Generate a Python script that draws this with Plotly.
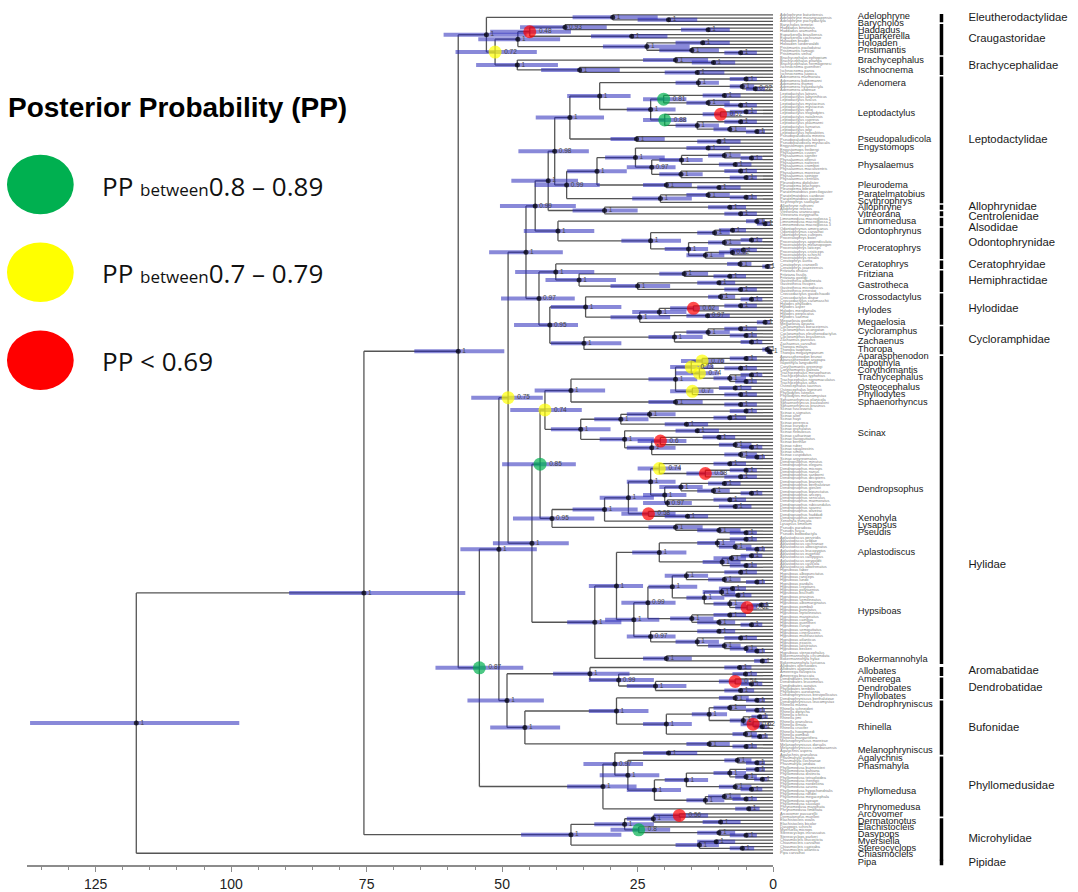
import numpy as np
import plotly.graph_objects as go

# ---------------- DATA ----------------
# Newick-like clades: internal node label = age(Ma)/posterior/HPD_old/HPD_young
ELEUTHERO = "(Adelophryne_baturitensis,(Adelophryne_maranguapensis,Adelophryne_pachydactyla)19.3/1/25/14)29.6/1/37/21.3"
CRAUGASTOR = ("(((Barycholos_ternetzi,(Haddadus_binotatus,Haddadus_aramunha)12/1/17/8)38.4/0.93/46.7/30.7,"
              "(Euparkerella_brasiliensis,Euparkerella_cochranae)26.1/1/33.6/19.5)44.9/0.48/52.2/37.3,"
              "((Holoaden_bradei,Holoaden_luederwaldti)13/1/18/8,(Pristimantis_paulodutrai,"
              "(Pristimantis_ramagii,Pristimantis_vinhai)6/1/9/3)15/1/21/10)23.3/1/31.4/15.4)47.1/1/54.4/39.3")
BRACHY = ("((Brachycephalus_ephippium,(Brachycephalus_pitanga,Brachycephalus_hermogenesi)11/1/15/7)18/1/24/12,"
          "(Ischnocnema_guentheri,(Ischnocnema_parva,Ischnocnema_juipoca)14/1/20/9)"
          "35.7/1/42.8/28.3)47.2/1/54.8/39.7")
ADENOMERA = ("((Adenomera_marmorata,Adenomera_bokermanni)5/1/8/3,(Adenomera_thomei,(Adenomera_hylaedactyla,"
             "Adenomera_andreae)3.3/0.92/5/1.5)5.7/1/8/3.5)13.8/1/18/10")
LEPTODACTYLUS = ("(((Leptodactylus_latrans,Leptodactylus_labyrinthicus)9/1/13/6,(Leptodactylus_fuscus,"
                 "(Leptodactylus_mystacinus,Leptodactylus_mystaceus)6/1/9/3)12/1/16/8)20.2/0.81/24/16,"
                 "(((Leptodactylus_spixi,Leptodactylus_troglodytes)5/1/8/3,Leptodactylus_natalensis)9.7/0.52/13/7,"
                 "((Leptodactylus_cupreus,Leptodactylus_plaumanni)6/1/9/3,(Leptodactylus_furnarius,"
                 "(Leptodactylus_jolyi,Leptodactylus_notoaktites)3/1/5/1.5)8/1/11/5)14/1/18/10)20/0.88/24/16)22.6/1/27/18")
PSEUDOPAL = "(Pseudopaludicola_mineira,(Pseudopaludicola_falcipes,Pseudopaludicola_mystacalis)10/1/14/6)25.2/1/30/20"
ENGYSTOMOPS = "(Engystomops_petersi,Engystomops_freibergi)12/1/16/8"
PHYSALAEMUS = ("(((Physalaemus_cuvieri,(Physalaemus_signifer,Physalaemus_olfersii)4/1/6/2)9/1/12/6,"
               "(Physalaemus_nattereri,Physalaemus_crombiei)7/1/10/4)16.9/1/21/13,((Physalaemus_maculiventris,"
               "Physalaemus_moreirae)6/1/9/3,(Physalaemus_spiniger,Physalaemus_centralis)5/1/8/3)17/1/21/13)22.4/0.97/27/18")
PLEURODEMA = "(Pleurodema_diplolister,(Pleurodema_brachyops,Pleurodema_bibroni)10/1/14/6)19.7/1/24/15"
PARATELMA = ("((Paratelmatobius_poecilogaster,(Paratelmatobius_cardosoi,Paratelmatobius_gaigeae)5/1/8/3)12/1/16/8,"
             "Scythrophrys_sawayae)20.8/1/26/15")
ALLO_CENTRO = ("((Allophryne_ruthveni,Allophryne_relictus)8/1/12/5,(Vitreorana_uranoscopa,Vitreorana_eurygnatha)"
               "6/1/9/3)31.1/1/37/25")
ALSODIDAE = "(Limnomedusa_macroglossa_1,(Limnomedusa_macroglossa_2,Limnomedusa_macroglossa_3)1.5/1/3/0.5)3/1/5/1.5"
ODONTO = ("(((Odontophrynus_americanus,Odontophrynus_carvalhoi)7.5/1/10/5,Odontophrynus_cultripes)10.8/1/14/8,"
          "(((Proceratophrys_boiei,Proceratophrys_appendiculata)4/1/6/2,Proceratophrys_melanopogon)9/1/12/6,"
          "(((Proceratophrys_laticeps,Proceratophrys_cristiceps)5.5/1/8/3,Proceratophrys_schirchi)7.5/0.92/10/5,"
          "Proceratophrys_renalis)12.5/1/16/9)15.6/1/20/12)22.6/1/28/17")
CERATO = "(Ceratophrys_aurita,(Ceratophrys_cranwelli,Ceratophrys_joazeirensis)1.1/1/2/0.5)6.1/1/8.5/4"
HEMIPHRACT = ("((Fritziana_ohausi,(Fritziana_fissilis,Fritziana_goeldii)8/1/11/5)16.4/1/21/12,"
              "((Gastrotheca_albolineata,Gastrotheca_fissipes)10/1/14/7,(Gastrotheca_microdiscus,"
              "Gastrotheca_ernestoi)6/1/9/3)25/1/30/19)35.8/1/42/29")
HYLODIDAE = ("((Crossodactylus_gaudichaudii,(Crossodactylus_dispar,Crossodactylus_caramaschii)4/1/6/2)9.7/1/12/7,"
             "((((Hylodes_phyllodes,Hylodes_asper)6/1/9/3,Hylodes_meridionalis)14.7/0.62/19/10,"
             "(Hylodes_perplicatus,Hylodes_sazimai)12.1/0.97/16/8)21/1/26/16,"
             "(Megaelosia_goeldii,Megaelosia_apuana)1.5/1/3/0.5)24.6/1/30/19)34.6/1/41/28")
CYCLORAMPH = ("((((Cycloramphus_boraceiensis,Cycloramphus_acangatan)6/1/9/3,(Cycloramphus_eleutherodactylus,"
              "Cycloramphus_brasiliensis)5/1/8/3)12/1/16/8,(Zachaenus_parvulus,Zachaenus_carvalhoi)4/1/6/2)18.2/1/23/13,"
              "(Thoropa_miliaris,(Thoropa_taophora,Thoropa_megatympanum)0.6/1/1.2/0.2)1.1/1/2/0.5)34.9/1/41/28")
LOPHYOHYLINI = ("(((((Aparasphenodon_brunoi,Aparasphenodon_arapapa)5/1/8/3,Itapotihyla_langsdorffii)13.1/0.76/17/9,"
                "((Corythomantis_greeningi,Corythomantis_galeata)6/1/9/3,((Trachycephalus_mesophaeus,"
                "Trachycephalus_typhonius)4/1/6/2,(Trachycephalus_nigromaculatus,Trachycephalus_atlas)5/1/7/3)8/1/11/5)"
                "13.6/0.74/18/10)15.1/0.73/19/11,((Osteocephalus_taurinus,Osteocephalus_leprieurii)7/1/10/4,"
                "(Phyllodytes_luteolus,Phyllodytes_melanomystax)6/1/9/3)14.9/0.7/19/11)18/1/23/14,"
                "(Sphaenorhyncus_planicola,(Sphaenorhyncus_pauloalvini,Sphaenorhyncus_prasinus)6/1/9/3)18/1/23/13)37.3/1/44/31")
SCINAX = ("((((Scinax_fuscovarius,Scinax_x-signatus)5/1/8/3,(Scinax_alter,Scinax_hayii)8/1/11/5)22.8/1/27/18,"
          "(Scinax_perereca,Scinax_eurydice)16/1/20/12)28.1/1/33/23,((Scinax_granulatus,Scinax_nebulosus)14/1/18/10,"
          "(((Scinax_catharinae,Scinax_flavoguttatus)10/1/13/7,(Scinax_berthae,(Scinax_ruber,Scinax_squalirostris)"
          "4/1/6/2)7/1/10/4)20.8/0.6/25/16,(Scinax_similis,(Scinax_cuspidatus,Scinax_argyreornatus)3/1/5/1.5)6/1/9/3)"
          "22.4/1/27/18)27.4/1/32/22)35.5/1/41/30")
DENDRO_A = ("((Dendropsophus_minutus,Dendropsophus_elegans)8/1/11/5,((Dendropsophus_microps,Dendropsophus_nanus)5/1/8/3,"
            "(Dendropsophus_sanborni,Dendropsophus_decipiens)6/1/9/3)12.5/0.58/16/9)21/0.74/25/17")
DENDRO_B = ("(((Dendropsophus_branneri,Dendropsophus_berthalutzae)9/1/12/6,(Dendropsophus_giesleri,"
            "(Dendropsophus_bipunctatus,Dendropsophus_anceps)4/1/6/2)11/1/14/8)17/1/21/13,"
            "((Dendropsophus_seniculus,Dendropsophus_marmoratus)8/1/11/5,(Dendropsophus_rubicundulus,"
            "Dendropsophus_soaresi)7/1/10/4)19.5/0.97/24/15)20/1/24/16")
DENDRO_C = "(Dendropsophus_oliveirai,(Dendropsophus_haddadi,Dendropsophus_werneri)15.8/1/20/12)23/0.58/28/18"
PSEUDINAE = "(Lysapsus_limellum,(Pseudis_paradoxa,(Pseudis_fusca,Pseudis_bolbodactyla)5/1/8/3)10/1/14/6)18/1/23/13"
APLASTO = ("(((Aplastodiscus_perviridis,Aplastodiscus_arildae)5/1/8/3,(Aplastodiscus_cochranae,(Aplastodiscus_albosignatus,"
           "Aplastodiscus_leucopygius)3/1/5/1.5)7/1/10/4)10.3/1/14/7,(((Aplastodiscus_eugenioi,Aplastodiscus_callipygius)"
           "4/1/6/2,Aplastodiscus_weygoldti)7.7/1/11/5,(Aplastodiscus_cavicola,Aplastodiscus_albofrenatus)5/1/8/3)9.4/1/13/6)21/1/26/16")
HYPSI_A1 = ("(((Hypsiboas_faber,Hypsiboas_albopunctatus)6/1/9/3,(Hypsiboas_raniceps,(Hypsiboas_lundii,Hypsiboas_pardalis)"
            "3/1/5/1.5)9/1/12/6)16/1/20/12,(((Hypsiboas_crepitans,Hypsiboas_polytaenius)7.5/1/10/5,(Hypsiboas_bischoffi,"
            "Hypsiboas_prasinus)6.5/1/9/4)9.5/1/13/7,(Hypsiboas_semilineatus,((Hypsiboas_albomarginatus,Hypsiboas_pombali)"
            "2.2/1/4/1,Hypsiboas_punctatus)4.8/0.62/7/3)8/1/11/5)12.7/1/16/9)18.6/1/23/14")
HYPSI_A2 = ("((Hypsiboas_leptolineatus,Hypsiboas_marginatus)8/1/11/5,(Hypsiboas_caingua,(Hypsiboas_guentheri,"
            "Hypsiboas_curupi)4/1/6/2)10/1/14/7)15/1/19/11")
HYPSI_B = ("((Hypsiboas_semiguttatus,Hypsiboas_cinerascens)10/1/14/7,((Hypsiboas_multifasciatus,Hypsiboas_atlanticus)"
           "6/1/9/3,(Hypsiboas_exastis,(Hypsiboas_latistriatus,(Hypsiboas_beckeri,Hypsiboas_stenocephalus)3/1/5/1.5)"
           "5/1/8/3)9/1/12/6)14/1/18/10)22.6/0.97/27/18")
BOKERMANN = "(Bokermannohyla_circumdata,(Bokermannohyla_hylax,Bokermannohyla_luctuosa)2/1/3.5/1)19.7/1/24/15"
DENDROBATOIDEA = ("((Allobates_olfersioides,Allobates_alagoanus)6.2/1/9/4,((Ameerega_flavopicta,Ameerega_braccata)5.1/1/7.5/3,"
                  "((Dendrobates_tinctorius,(Dendrobates_leucomelas,Dendrobates_auratus)4/1/6/2)7/0.54/10/4.5,"
                  "(Phyllobates_terribilis,Phyllobates_aurotaenia)6/1/9/3.5)21.7/1/27/16)28.5/0.99/34/22)33.8/1/40.6/26.5")
DENDROPHRYN = ("(Dendrophryniscus_brevipollicatus,(Dendrophryniscus_berthalutzae,Dendrophryniscus_leucomystax)"
               "3/1/5/1.5)7/1/10/4.5")
RHINELLA = ("(((Rhinella_marina,(Rhinella_schneideri,Rhinella_diptycha)3/1/5/1.5)8/1/11/5,((Rhinella_icterica,"
            "Rhinella_jimi)2.5/1/4/1,(Rhinella_granulosa,(Rhinella_ornata,Rhinella_crucifer)2/1/3.5/1)3.7/0.62/6/2)"
            "5.5/1/8/3.5)11.8/1/15/8.5,(Rhinella_hoogmoedi,(Rhinella_pombali,Rhinella_margaritifera)2.5/1/4/1)"
            "5.1/1/7.5/3)19.7/1/24/15")
MELANO = "(Melanophryniscus_moreirae,(Melanophryniscus_dorsalis,Melanophryniscus_cambaraensis)5/1/7.5/3)11.8/1/16/8"
AGALYCHNIS = "(Agalychnis_aspera,Agalychnis_granulosa)19.3/1/24/14"
PHASMAHYLA = "(Phasmahyla_guttata,(Phasmahyla_cochranae,Phasmahyla_jandaia)3/1/5/1.5)6.6/1/9/4"
PHYLLOMEDUSA = ("((((Phyllomedusa_burmeisteri,Phyllomedusa_bahiana)3/1/5/1.5,(Phyllomedusa_distincta,"
                "(Phyllomedusa_tetraploidea,Phyllomedusa_iheringii)2/1/3.5/1)5/1/7/3)8/1/11/5,(Phyllomedusa_nordestina,"
                "(Phyllomedusa_azurea,Phyllomedusa_hypochondrialis)4/1/6/2)7/1/10/4)16/1/20/12,((Phyllomedusa_rohdei,"
                "(Phyllomedusa_megacephala,Phyllomedusa_ayeaye)5/1/7.5/3)9/1/12/6,Phyllomedusa_sauvagii)12.5/1/16/9)21.9/1/27/17")
PHRYNOMEDUSA = "(Phrynomedusa_marginata,Phrynomedusa_fimbriata)4.5/1/7/2.5"
MICROHYLIDAE = ("((((Arcovomer_passarellii,Dermatonotus_muelleri)17.3/0.56/22/12,(Elachistocleis_ovalis,"
                "Elachistocleis_bicolor)9.7/1/13/6)22.1/1/27/17,(Dasypops_schirchi,(Myersiella_microps,"
                "(Stereocyclops_incrassatus,Stereocyclops_parkeri)5/1/8/3)10/1/14/7)24.8/0.8/30/19)27.4/1/33/22,"
                "((Chiasmocleis_leucosticta,Chiasmocleis_carvalhoi)10.5/1/14/7,(Chiasmocleis_capixaba,"
                "Chiasmocleis_atlantica)5.7/1/8/3.5)13.6/1/18/10)37.3/1/46.5/28")

# backbone assembly
LEPTODACTYLIDAE = (f"((({ADENOMERA},{LEPTODACTYLUS})32/1/38/26.3,{PSEUDOPAL})37.5/1/43.8/31.2,"
                   f"((({ENGYSTOMOPS},{PHYSALAEMUS})25.4/1/31/20,{PLEURODEMA})32.5/1/38/27,{PARATELMA})38.1/0.99/44/32)40.3/0.98/47/34")
DENDROPSOPHUS = f"(({DENDRO_A},{DENDRO_B})22.6/1/27/18,{DENDRO_C})26.7/1/32/22"
HYPSIBOAS = f"(({HYPSI_A1},{HYPSI_A2})23.1/0.99/28/18,{HYPSI_B})25.7/1/31/21"
HYLIDAE = (f"((({LOPHYOHYLINI},{SCINAX})42.1/0.74/48.5/35.3,(({DENDROPSOPHUS},Xenohyla_truncata)31.1/1/37/25,"
           f"{PSEUDINAE})40.8/0.95/48/33)43/0.85/50/36.4,(({APLASTO},{HYPSIBOAS})28.9/1/34/24,{BOKERMANN})32.9/1/38/28)"
           "44.5/1/51.7/37.7")
TERRARANA = f"({ELEUTHERO},({CRAUGASTOR},{BRACHY})51.3/0.72/58.6/43.6)52.9/1/60.8/45.5"
NOBLEBATRACHIA = (f"((({LEPTODACTYLIDAE},{ALLO_CENTRO})41.5/1/48.3/36,({ALSODIDAE},{ODONTO})39.7/1/46/33)43.9/0.99/50.4/36.4,"
                  f"(({CERATO},{HEMIPHRACT})40.1/1/47.6/33,({HYLODIDAE},{CYCLORAMPH})41.2/0.95/47.8/36)43.2/0.97/50.2/36.6)"
                  "45.6/1/52.4/38.8")
BUFONIDAE = f"(({DENDROPHRYN},{RHINELLA})28.9/1/34/23,{MELANO})45.8/1/52.2/39.3"
PHYLLOMEDUSIDAE = f"(({AGALYCHNIS},({PHASMAHYLA},{PHYLLOMEDUSA})26.8/1/32/21)29.2/0.97/35/24,{PHRYNOMEDUSA})31.4/1/38/25.2"
TREE = (f"((({TERRARANA},((({NOBLEBATRACHIA},{HYLIDAE})48.9/0.75/55.7/42.5,({DENDROBATOIDEA},{BUFONIDAE})49.1/1/56.4/42.3)"
        f"50.6/1/57.7/43.6,{PHYLLOMEDUSIDAE})54.2/0.87/62.3/46.1)58.1/1/66.2/49.6,{MICROHYLIDAE})75.5/1/89.3/56.8,"
        "Pipa_carvalhoi)117.5/1/137.1/98.5")

GENUS_LABELS = ["Adelophryne", "Barycholos", "Haddadus", "Euparkerella", "Holoaden", "Pristimantis", "Brachycephalus",
                "Ischnocnema", "Adenomera", "Leptodactylus", "Pseudopaludicola", "Engystomops", "Physalaemus", "Pleurodema",
                "Paratelmatobius", "Scythrophrys", "Allophryne", "Vitreorana", "Limnomedusa", "Odontophrynus",
                "Proceratophrys", "Ceratophrys", "Fritziana", "Gastrotheca", "Crossodactylus", "Hylodes", "Megaelosia",
                "Cycloramphus", "Zachaenus", "Thoropa", "Aparasphenodon", "Itapotihyla", "Corythomantis", "Trachycephalus",
                "Osteocephalus", "Phyllodytes", "Sphaenorhyncus", "Scinax", "Dendropsophus", "Xenohyla", "Lysapsus",
                "Pseudis", "Aplastodiscus", "Hypsiboas", "Bokermannohyla", "Allobates", "Ameerega", "Dendrobates",
                "Phyllobates", "Dendrophryniscus", "Rhinella", "Melanophryniscus", "Agalychnis", "Phasmahyla",
                "Phyllomedusa", "Phrynomedusa", "Arcovomer", "Dermatonotus", "Elachistocleis", "Dasypops", "Myersiella",
                "Stereocyclops", "Chiasmocleis", "Pipa"]
FAMILY_NAMES = ["Eleutherodactylidae", "Craugastoridae", "Brachycephalidae", "Leptodactylidae", "Allophrynidae",
                "Centrolenidae", "Alsodidae", "Odontophrynidae", "Ceratophryidae", "Hemiphractidae", "Hylodidae",
                "Cycloramphidae", "Hylidae", "Aromabatidae", "Dendrobatidae", "Bufonidae", "Phyllomedusidae",
                "Microhylidae", "Pipidae"]
FAMILY_FIRST_GENUS = ["Adelophryne", "Barycholos", "Brachycephalus", "Adenomera", "Allophryne", "Vitreorana",
                      "Limnomedusa", "Odontophrynus", "Ceratophrys", "Fritziana", "Crossodactylus", "Cycloramphus",
                      "Aparasphenodon", "Allobates", "Ameerega", "Dendrophryniscus", "Agalychnis", "Arcovomer", "Pipa"]
AXIS_TICKS = [0, 25, 50, 75, 100, 125]
LEGEND_ITEMS = [("#00b050", "0.8 – 0.89", True), ("#ffff00", "0.7 – 0.79", True), ("#ff0000", "< 0.69", False)]

# ---------------- PARSE ----------------
def parse(s):
    pos = 0

    def node():
        nonlocal pos
        if s[pos] == "(":
            pos += 1
            kids = [node()]
            while s[pos] == ",":
                pos += 1
                kids.append(node())
            pos += 1  # ')'
            st = pos
            while pos < len(s) and s[pos] not in ",)":
                pos += 1
            a, p, lo, hi = map(float, s[st:pos].split("/"))
            return {"kids": kids, "age": a, "pp": p, "lo": lo, "hi": hi}
        st = pos
        while pos < len(s) and s[pos] not in ",)":
            pos += 1
        return {"name": s[st:pos], "age": 0.0}
    return node()


root = parse(TREE)
tips = []


def collect(n):
    if "kids" in n:
        for k in n["kids"]:
            collect(k)
    else:
        tips.append(n)


collect(root)
N = len(tips)
TOP_Y, BOT_Y = 15.0, 860.0
step = (BOT_Y - TOP_Y) / (N - 1)
for i, t in enumerate(tips):
    t["y"] = TOP_Y + i * step


def place(n):
    if "kids" in n:
        for k in n["kids"]:
            place(k)
        n["y"] = (n["kids"][0]["y"] + n["kids"][-1]["y"]) / 2


place(root)

bx, by, hx, hy = [], [], [], []
nx, ny, ncol, nsize, ntxt = [], [], [], [], []


def walk(n):
    if "kids" not in n:
        return
    ys = [k["y"] for k in n["kids"]]
    bx.extend([n["age"], n["age"], None]); by.extend([min(ys), max(ys), None])
    for k in n["kids"]:
        bx.extend([n["age"], k["age"], None]); by.extend([k["y"], k["y"], None])
        walk(k)
    hx.extend([n["lo"], n["hi"], None]); hy.extend([n["y"], n["y"], None])
    p = n["pp"]
    if p >= 0.9:
        c, s = "#000000", 5
    elif p >= 0.8:
        c, s = "#00b050", 13
    elif p >= 0.7:
        c, s = "#ffff00", 13
    else:
        c, s = "#ff0000", 13
    nx.append(n["age"]); ny.append(n["y"]); ncol.append(c); nsize.append(s)
    ntxt.append("1" if p == 1 else f"{p:g}")


walk(root)

# ---------------- FIGURE ----------------
W, H = 1078, 892
X0_PX, XZ_PX, AXIS_PX = 27, 776, 872
AGE_MAX = (XZ_PX - X0_PX) / 5.44
FONT = "Arial, Liberation Sans, sans-serif"


def label_y(y):
    # the label column of the reference is slightly stretched below the Hylidae block
    return float(np.interp(y, [0, 668, 675, 757, 817, 860, 900], [0, 668, 681, 763, 822, 870, 910]))


def spread(vals, gap, iters=400):
    v = list(vals)
    for _ in range(iters):
        moved = False
        for i in range(len(v) - 1):
            d = v[i + 1] - v[i]
            if d < gap - 1e-6:
                m = (gap - d) / 2
                v[i] -= m
                v[i + 1] += m
                moved = True
        if not moved:
            break
    return v


def push_down(vals, gap):
    v = list(vals)
    for i in range(1, len(v)):
        v[i] = max(v[i], v[i - 1] + gap)
    return v


fig = go.Figure()
fig.add_trace(go.Scatter(x=bx, y=by, mode="lines", line=dict(color="#555555", width=1.3),
                         hoverinfo="skip", showlegend=False))
fig.add_trace(go.Scatter(x=hx, y=hy, mode="lines", line=dict(color="rgba(40,40,185,0.55)", width=4),
                         hoverinfo="skip", showlegend=False))
fig.add_trace(go.Scatter(x=nx, y=ny, mode="markers+text", text=ntxt, textposition="middle right",
                         textfont=dict(size=6.5, color="#444444", family=FONT),
                         marker=dict(size=nsize, color=ncol, line=dict(width=0)),
                         hoverinfo="skip", showlegend=False, cliponaxis=False))

# text columns on a second x axis measured in pixels
fig.add_trace(go.Scatter(x=[783] * N, y=[t["y"] for t in tips], mode="text",
                         text=[t["name"].replace("_", " ") for t in tips], textposition="middle right",
                         textfont=dict(size=3.9, color="#808080", family=FONT),
                         xaxis="x2", hoverinfo="skip", showlegend=False, cliponaxis=False))

genus_of = [t["name"].split("_")[0] for t in tips]
gy = []
for g in GENUS_LABELS:
    ys = [t["y"] for t, gg in zip(tips, genus_of) if gg == g]
    gy.append(label_y(sum(ys) / len(ys)))
gy = spread(gy, 6.8)
fig.add_trace(go.Scatter(x=[861] * len(GENUS_LABELS), y=gy, mode="text", text=GENUS_LABELS,
                         textposition="middle right",
                         textfont=dict(size=9.3, color="#1a1a1a", family=FONT),
                         xaxis="x2", hoverinfo="skip", showlegend=False, cliponaxis=False))

# family bars
first_idx = [genus_of.index(g) for g in FAMILY_FIRST_GENUS] + [N]
fbx, fby, fly = [], [], []
LABEL_SHIFT = {"Hylidae": 56}
for k, fam in enumerate(FAMILY_NAMES):
    a, b = first_idx[k], first_idx[k + 1] - 1
    y0 = label_y(tips[a]["y"] - step / 2 + 0.8)
    y1 = label_y(tips[b]["y"] + step / 2 - 0.8)
    if b == a:
        y0, y1 = y0 - 2.5, y1 + 2.5
    fbx.extend([945, 945, None]); fby.extend([y0, y1, None])
    fly.append((y0 + y1) / 2 + LABEL_SHIFT.get(fam, 0))
fly = push_down(fly, 10.5)
fig.add_trace(go.Scatter(x=fbx, y=fby, mode="lines", line=dict(color="#000000", width=3.5),
                         xaxis="x2", hoverinfo="skip", showlegend=False))
fig.add_trace(go.Scatter(x=[972] * len(FAMILY_NAMES), y=fly, mode="text", text=FAMILY_NAMES,
                         textposition="middle right",
                         textfont=dict(size=11.3, color="#1a1a1a", family=FONT),
                         xaxis="x2", hoverinfo="skip", showlegend=False, cliponaxis=False))

# legend (drawn in page pixels)
shapes, annotations = [], []
annotations.append(dict(x=6 / W, y=1 - 108 / H, xref="paper", yref="paper", xanchor="left", yanchor="middle",
                        text="<b>Posterior Probability (PP)</b>", showarrow=False,
                        font=dict(size=28, color="#000000", family=FONT)))
for i, (col, rng, between) in enumerate(LEGEND_ITEMS):
    cy = 186 + i * 88.5
    shapes.append(dict(type="circle", xref="paper", yref="paper", x0=7 / W, x1=74 / W,
                       y0=1 - (cy + 30) / H, y1=1 - (cy - 30) / H, fillcolor=col, line=dict(width=0)))
    txt = ("PP <span style='font-size:17px'>between</span>" + rng) if between else ("PP " + rng)
    annotations.append(dict(x=100 / W, y=1 - (cy + 1) / H, xref="paper", yref="paper", xanchor="left",
                            yanchor="middle", text=txt, showarrow=False,
                            font=dict(size=26, color="#111111", family="Open Sans")))

fig.update_layout(
    width=W, height=H, margin=dict(l=0, r=0, t=0, b=0), paper_bgcolor="white", plot_bgcolor="white",
    showlegend=False, shapes=shapes, annotations=annotations,
    xaxis=dict(domain=[X0_PX / W, XZ_PX / W], range=[AGE_MAX, 0], anchor="y", showgrid=False, zeroline=False,
               showline=True, linecolor="#8c8c8c", linewidth=1.5, ticks="outside", ticklen=5, tickwidth=1,
               tickcolor="#8c8c8c", tickvals=AXIS_TICKS, ticktext=[str(v) for v in AXIS_TICKS],
               tickfont=dict(size=14, color="#222222", family=FONT),
               minor=dict(tickvals=list(range(0, 136, 5)), ticks="outside", ticklen=3, tickcolor="#8c8c8c")),
    xaxis2=dict(domain=[XZ_PX / W, 1], range=[XZ_PX, W], anchor="y", visible=False, showgrid=False),
    yaxis=dict(domain=[(H - AXIS_PX) / H, 1], range=[AXIS_PX, 0], visible=False, showgrid=False),
)

fig.write_html("out.html", config={"displayModeBar": False},
               post_script="document.body.style.margin='0px';document.body.style.overflow='hidden';")
